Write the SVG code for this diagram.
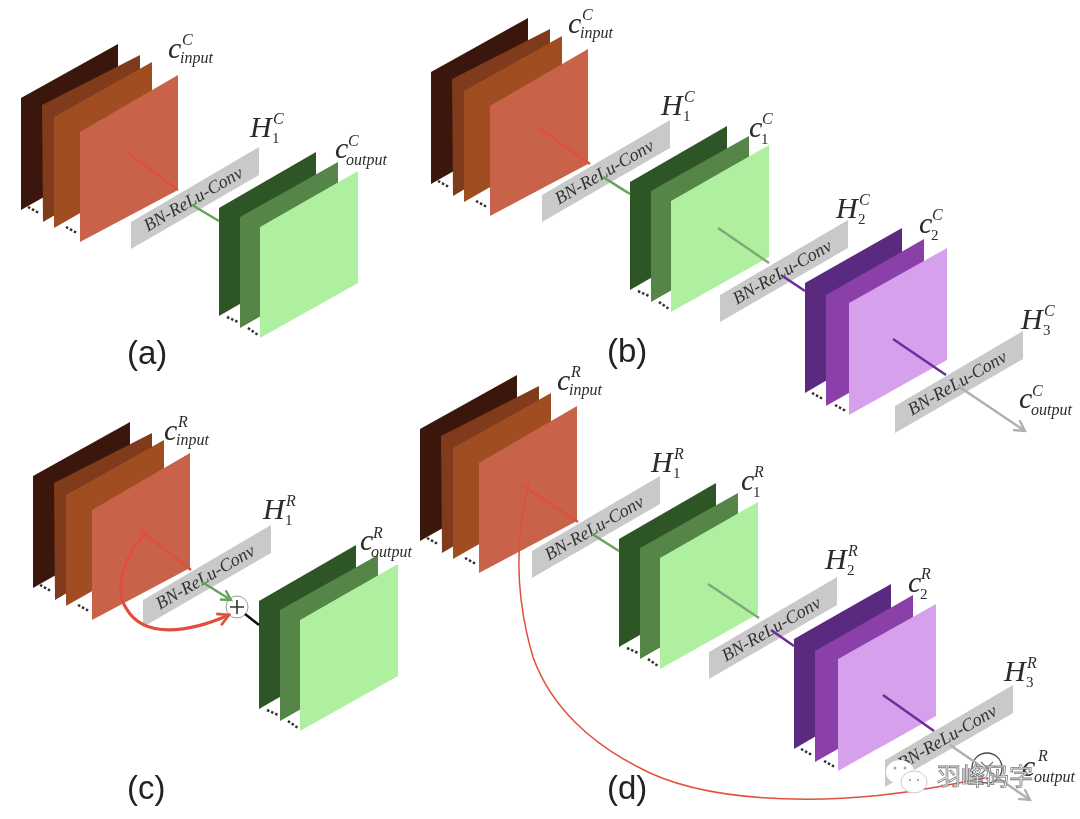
<svg xmlns="http://www.w3.org/2000/svg" xmlns:xlink="http://www.w3.org/1999/xlink" width="1080" height="819" viewBox="0 0 1080 819">
<style>
text{font-family:"Liberation Serif","Noto Sans CJK SC",serif;font-style:italic;fill:#2b2b2b}
.m{font-size:30px}.s{font-size:16px}.n{font-size:15px;font-style:normal}
.b{font-size:18px;fill:#333;text-anchor:middle}
.p{font-family:"Liberation Sans",sans-serif;font-style:normal;font-size:33px;fill:#222}
.l{fill:none;stroke-width:2.5}
.t{fill:none;stroke-width:3.2}
.f{fill:none;stroke-width:1.5}
.dots{fill:none;stroke:#333;stroke-width:2.5;stroke-dasharray:2.5 2}
.red{stroke:#e0503c}.gr{stroke:#62a45a}.lg{stroke:#7fa878}.pu{stroke:#6a2f96}.gy{stroke:#b0b0b0}
.gray{fill:#c9c9c9}
</style>
<defs>
<filter id="soft" x="-5%" y="-5%" width="110%" height="110%"><feGaussianBlur stdDeviation="0.5"/></filter>
<marker id="ar" viewBox="0 0 12 12" refX="10" refY="6" markerWidth="15" markerHeight="15" markerUnits="userSpaceOnUse" orient="auto"><path d="M1 1L10 6L1 11" fill="none" stroke="#e0503c" stroke-width="2.2"/></marker>
<marker id="ag" viewBox="0 0 12 12" refX="10" refY="6" markerWidth="13" markerHeight="13" markerUnits="userSpaceOnUse" orient="auto"><path d="M1 1L10 6L1 11" fill="none" stroke="#62a45a" stroke-width="2.2"/></marker>
<marker id="ay" viewBox="0 0 12 12" refX="10" refY="6" markerWidth="14" markerHeight="14" markerUnits="userSpaceOnUse" orient="auto"><path d="M1 1L10 6L1 11" fill="none" stroke="#b0b0b0" stroke-width="2"/></marker>
<g id="rs">
<polygon points="21,98 118,44 118,155 21,210" fill="#3a1708"/>
<polygon points="42,105 140,55 140,165 43,222" fill="#7f3a1a"/>
<polygon points="54,117 152,62 152,172 54,228" fill="#a04d24"/>
<polygon points="80,132 178,75 178,190 80,242" fill="#c8644a"/>
<path class="dots" d="M28 207L39 213M66 227L77 233"/>
</g>
<g id="gs">
<polygon points="219,208 316,152 316,260 219,316" fill="#2f5527"/>
<polygon points="240,217 338,162 338,272 240,328" fill="#548547"/>
<polygon points="260,227 358,171 358,283 260,338" fill="#aef0a0"/>
<path class="dots" d="M227 317L238 322M248 328L258 335"/>
</g>
<g id="ps">
<polygon points="805,283 902,228 902,336 805,393" fill="#5a2a80"/>
<polygon points="826,295 924,239 924,350 826,406" fill="#8a3fa8"/>
<polygon points="849,303 947,248 947,360 849,415" fill="#d6a0ec"/>
<path class="dots" d="M812 393L823 399M835 405L846 411"/>
</g>
<g id="box">
<polygon class="gray" points="131,249 131,222 259,147 259,175"/>
<text class="b" transform="translate(196,204) rotate(-30)">BN-ReLu-Conv</text>
</g>
</defs>

<g filter="url(#soft)">
<g id="a-input"><use xlink:href="#rs"/></g>
<g id="a-conv"><use xlink:href="#box"/></g>
<g id="a-output"><use xlink:href="#gs"/></g>
<g id="b-input"><use xlink:href="#rs" transform="translate(410,-26)"/></g>
<g id="b-conv1"><use xlink:href="#box" transform="translate(411,-27)"/></g>
<g id="b-c1"><use xlink:href="#gs" transform="translate(411,-26)"/></g>
<g id="b-conv2"><use xlink:href="#box" transform="translate(589,73)"/></g>
<g id="b-c2"><use xlink:href="#ps"/></g>
<g id="b-conv3"><use xlink:href="#box" transform="translate(764,184)"/></g>
<g id="c-input"><use xlink:href="#rs" transform="translate(12,378)"/></g>
<g id="c-conv"><use xlink:href="#box" transform="translate(12,378)"/></g>
<g id="c-output"><use xlink:href="#gs" transform="translate(40,393)"/></g>
<g id="d-input"><use xlink:href="#rs" transform="translate(399,331)"/></g>
<g id="d-conv1"><use xlink:href="#box" transform="translate(401,329)"/></g>
<g id="d-c1"><use xlink:href="#gs" transform="translate(400,331)"/></g>
<g id="d-conv2"><use xlink:href="#box" transform="translate(578,430)"/></g>
<g id="d-c2"><use xlink:href="#ps" transform="translate(-11,356)"/></g>
<g id="d-conv3"><use xlink:href="#box" transform="translate(754,538)"/></g>
<g id="c-add"><circle cx="237" cy="607" r="11" fill="#fff" stroke="#999" stroke-width="1"/><path d="M230 607H244M237 600V614" stroke="#333" stroke-width="1.6"/></g>
<g id="d-add"><circle cx="987" cy="768" r="15" fill="none" stroke="#444" stroke-width="1.3"/><path d="M981 762L993 774M993 762L981 774" stroke="#777" stroke-width="1.3"/></g>

<g id="connectors">
<path class="l red" d="M128 153L178 190"/>
<path class="l gr" d="M192 205L219 221"/>
<path class="l red" d="M538 127L590 164"/>
<path class="l gr" d="M603 177L630 194"/>
<path class="l lg" d="M718 228L769 263"/>
<path class="l pu" d="M781 275L805 291"/>
<path class="l pu" d="M893 339L946 375"/>
<path class="l gy" d="M958 386L1025 431" marker-end="url(#ay)"/>
<path class="l red" d="M140 530L191 570"/>
<path class="l gr" d="M202 582L231 600" marker-end="url(#ag)"/>
<path class="l" stroke="#111" d="M245 614L259 625"/>
<path class="t red" d="M144 535C124 555 114 590 126 608C144 640 190 632 229 615" marker-end="url(#ar)"/>
<path class="l red" d="M522 485L578 522"/>
<path class="f red" d="M529 483C517 530 513 590 533 657C550 705 590 745 650 773C720 805 840 805 937 787L985 778"/>
<path class="l gr" d="M592 534L619 551"/>
<path class="l lg" d="M708 584L759 618"/>
<path class="l pu" d="M771 630L794 646"/>
<path class="l pu" d="M883 695L934 731"/>
<path class="l gy" d="M950 745L1030 800" marker-end="url(#ay)"/>
</g>
</g>

<g id="labels">
<text><tspan class="m" x="168" y="58">c</tspan><tspan class="s" x="182" y="45">C</tspan><tspan class="s" x="180" y="63">input</tspan></text>
<text><tspan class="m" x="250" y="137">H</tspan><tspan class="s" x="273" y="124">C</tspan><tspan class="n" x="272" y="143">1</tspan></text>
<text><tspan class="m" x="335" y="158">c</tspan><tspan class="s" x="348" y="146">C</tspan><tspan class="s" x="346" y="165">output</tspan></text>
<text class="p" x="127" y="364">(a)</text>
<text><tspan class="m" x="568" y="33">c</tspan><tspan class="s" x="582" y="20">C</tspan><tspan class="s" x="580" y="38">input</tspan></text>
<text><tspan class="m" x="661" y="115">H</tspan><tspan class="s" x="684" y="102">C</tspan><tspan class="n" x="683" y="121">1</tspan></text>
<text><tspan class="m" x="749" y="137">c</tspan><tspan class="s" x="762" y="124">C</tspan><tspan class="n" x="761" y="144">1</tspan></text>
<text><tspan class="m" x="836" y="218">H</tspan><tspan class="s" x="859" y="205">C</tspan><tspan class="n" x="858" y="224">2</tspan></text>
<text><tspan class="m" x="919" y="233">c</tspan><tspan class="s" x="932" y="220">C</tspan><tspan class="n" x="931" y="240">2</tspan></text>
<text><tspan class="m" x="1021" y="329">H</tspan><tspan class="s" x="1044" y="316">C</tspan><tspan class="n" x="1043" y="335">3</tspan></text>
<text><tspan class="m" x="1019" y="408">c</tspan><tspan class="s" x="1032" y="396">C</tspan><tspan class="s" x="1031" y="415">output</tspan></text>
<text class="p" x="607" y="362">(b)</text>
<text><tspan class="m" x="164" y="440">c</tspan><tspan class="s" x="178" y="427">R</tspan><tspan class="s" x="176" y="445">input</tspan></text>
<text><tspan class="m" x="263" y="519">H</tspan><tspan class="s" x="286" y="506">R</tspan><tspan class="n" x="285" y="525">1</tspan></text>
<text><tspan class="m" x="360" y="550">c</tspan><tspan class="s" x="373" y="538">R</tspan><tspan class="s" x="371" y="557">output</tspan></text>
<text class="p" x="127" y="799">(c)</text>
<text><tspan class="m" x="557" y="390">c</tspan><tspan class="s" x="571" y="377">R</tspan><tspan class="s" x="569" y="395">input</tspan></text>
<text><tspan class="m" x="651" y="472">H</tspan><tspan class="s" x="674" y="459">R</tspan><tspan class="n" x="673" y="478">1</tspan></text>
<text><tspan class="m" x="741" y="490">c</tspan><tspan class="s" x="754" y="477">R</tspan><tspan class="n" x="753" y="497">1</tspan></text>
<text><tspan class="m" x="825" y="569">H</tspan><tspan class="s" x="848" y="556">R</tspan><tspan class="n" x="847" y="575">2</tspan></text>
<text><tspan class="m" x="908" y="592">c</tspan><tspan class="s" x="921" y="579">R</tspan><tspan class="n" x="920" y="599">2</tspan></text>
<text><tspan class="m" x="1004" y="681">H</tspan><tspan class="s" x="1027" y="668">R</tspan><tspan class="n" x="1026" y="687">3</tspan></text>
<text><tspan class="m" x="1022" y="776">c</tspan><tspan class="s" x="1038" y="761">R</tspan><tspan class="s" x="1034" y="782">output</tspan></text>
<text class="p" x="607" y="799">(d)</text>
</g>

<g id="watermark">
<ellipse cx="900" cy="772" rx="14" ry="12" fill="#fff"/>
<ellipse cx="914" cy="782" rx="13" ry="11" fill="#fff" stroke="#ccc" stroke-width="1"/>
<circle cx="895" cy="768" r="1.5" fill="#aaa"/><circle cx="905" cy="768" r="1.5" fill="#aaa"/><circle cx="910" cy="780" r="1.2" fill="#aaa"/><circle cx="918" cy="780" r="1.2" fill="#aaa"/>
<text x="937" y="785" font-size="24" style="font-family:'Noto Sans CJK SC',sans-serif;font-style:normal;fill:#fff;stroke:#777;stroke-width:.8">羽峰码字</text>
</g>
</svg>
